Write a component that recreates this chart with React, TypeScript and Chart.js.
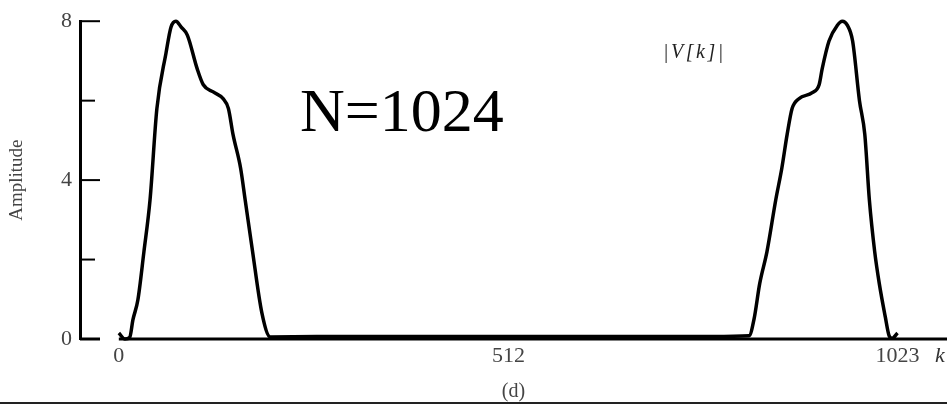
import React, { useEffect, useRef } from "react";
import { Chart, registerables } from "chart.js";

Chart.register(...registerables);

// |V[k]|: left lobe, near-zero floor, right lobe
const leftLobeK = [0, 8, 14.5, 18.5, 25, 33, 41, 50, 62, 68.5, 75, 82, 90, 103, 111, 124, 137, 144, 150, 160, 166, 175, 188, 199];
const leftLobeV = [0.15, 0.0, 0.05, 0.48, 0.98, 2.2, 3.5, 5.8, 7.2, 7.85, 8.0, 7.85, 7.65, 6.8, 6.4, 6.22, 6.05, 5.8, 5.15, 4.3, 3.5, 2.3, 0.65, 0.05];
const floorK = [260, 400, 512, 640, 780];
const floorV = [0.06, 0.06, 0.06, 0.06, 0.06];
const rightLobeK = [828, 834.5, 842, 851.5, 863, 871, 878, 884.5, 893.5, 911, 920, 924, 933, 944, 950.5, 957, 964, 973, 980, 986, 993, 999, 1007, 1012, 1016, 1023];
const rightLobeV = [0.08, 0.5, 1.4, 2.2, 3.5, 4.3, 5.15, 5.8, 6.05, 6.2, 6.4, 6.8, 7.5, 7.9, 8.0, 7.9, 7.5, 6.0, 5.15, 3.5, 2.2, 1.4, 0.55, 0.08, 0.02, 0.15];

const xTickValues = [0, 512, 1023];
const yTickValues = [0, 2, 4, 6, 8];
const yLabelled = [0, 4, 8];

const yTitle = "Amplitude";
const xTitle = "(d)";
const annotationN = "N=1024";
const annotationV = "|V[k]|";
const axisName = "k";

const SERIF = '"Liberation Serif", "Times New Roman", serif';

export default function App() {
  const ref = useRef<HTMLCanvasElement | null>(null);

  useEffect(() => {
    const canvas = ref.current;
    if (!canvas) return;

    const pts: { x: number; y: number }[] = [];
    leftLobeK.forEach((k, i) => pts.push({ x: k, y: leftLobeV[i] }));
    floorK.forEach((k, i) => pts.push({ x: k, y: floorV[i] }));
    rightLobeK.forEach((k, i) => pts.push({ x: k, y: rightLobeV[i] }));

    const axesPlugin = {
      id: "axesPlugin",
      beforeDatasetsDraw(chart: any) {
        const ctx = chart.ctx;
        const xs = chart.scales.x;
        const ys = chart.scales.y;
        const left = chart.chartArea.left;
        ctx.save();
        ctx.strokeStyle = "#000";
        ctx.lineCap = "butt";
        const y0 = ys.getPixelForValue(0);
        ctx.lineWidth = 3;
        ctx.beginPath();
        ctx.moveTo(xs.getPixelForValue(0), y0);
        ctx.lineTo(chart.width, y0);
        ctx.stroke();
        yTickValues.forEach((v) => {
          const y = ys.getPixelForValue(v);
          const len = yLabelled.includes(v) ? 20 : 15;
          ctx.lineWidth = v === 0 ? 3 : 2;
          ctx.beginPath();
          ctx.moveTo(left, y);
          ctx.lineTo(left + len, y);
          ctx.stroke();
        });
        ctx.restore();
      },
      afterDraw(chart: any) {
        const ctx = chart.ctx;
        ctx.save();
        ctx.fillStyle = "#000";
        ctx.textAlign = "left";
        ctx.textBaseline = "alphabetic";
        ctx.font = `62px ${SERIF}`;
        ctx.fillText(annotationN, 300, 131);
        ctx.fillStyle = "#222";
        ctx.font = `italic 20px ${SERIF}`;
        (ctx as any).letterSpacing = "2.5px";
        ctx.fillText(annotationV, 663, 58);
        (ctx as any).letterSpacing = "0px";
        ctx.fillStyle = "#333";
        ctx.font = `italic 22px ${SERIF}`;
        ctx.fillText(axisName, 935, 362);
        ctx.fillStyle = "#222";
        ctx.fillRect(0, 402, chart.width, 2);
        ctx.restore();
      },
    };

    const chart = new Chart(canvas, {
      type: "line",
      data: {
        datasets: [
          {
            data: pts,
            borderColor: "#000",
            borderWidth: 3.5,
            pointRadius: 0,
            cubicInterpolationMode: "monotone",
            fill: false,
            clip: false as any,
          },
        ],
      },
      options: {
        animation: false,
        responsive: false,
        devicePixelRatio: 1,
        layout: { padding: { top: 19, left: 0, right: 0, bottom: 0 } },
        plugins: { legend: { display: false }, tooltip: { enabled: false } },
        scales: {
          x: {
            type: "linear",
            min: -51,
            max: 1088,
            afterBuildTicks: (scale: any) => {
              scale.ticks = xTickValues.map((value) => ({ value }));
            },
            afterFit: (scale: any) => {
              scale.height = 65;
            },
            grid: { display: false, drawTicks: false, tickLength: 0 },
            border: { display: false },
            ticks: {
              autoSkip: false,
              maxRotation: 0,
              padding: 4,
              color: "#444",
              font: { family: SERIF, size: 22 },
              callback: (v: any) => String(v),
            },
            title: {
              display: true,
              text: xTitle,
              color: "#444",
              font: { family: SERIF, size: 20 },
              padding: { top: 0, bottom: 0 },
            },
          },
          y: {
            min: 0,
            max: 8,
            afterBuildTicks: (scale: any) => {
              scale.ticks = yTickValues.map((value) => ({ value }));
            },
            afterFit: (scale: any) => {
              scale.width = 80;
            },
            grid: { display: false, drawTicks: false, tickLength: 0 },
            border: { display: true, color: "#000", width: 3 },
            ticks: {
              padding: 8,
              color: "#444",
              font: { family: SERIF, size: 22 },
              callback: (v: any) => (yLabelled.includes(Number(v)) ? String(v) : ""),
            },
            title: {
              display: true,
              text: yTitle,
              color: "#444",
              font: { family: SERIF, size: 19 },
              padding: { top: 6, bottom: 0 },
            },
          },
        },
      },
      plugins: [axesPlugin],
    } as any);

    return () => chart.destroy();
  }, []);

  return (
    <div style={{ position: "fixed", left: 0, top: 0, width: 947, height: 404, background: "#fff" }}>
      <canvas ref={ref} width={947} height={404} style={{ display: "block" }} />
    </div>
  );
}
